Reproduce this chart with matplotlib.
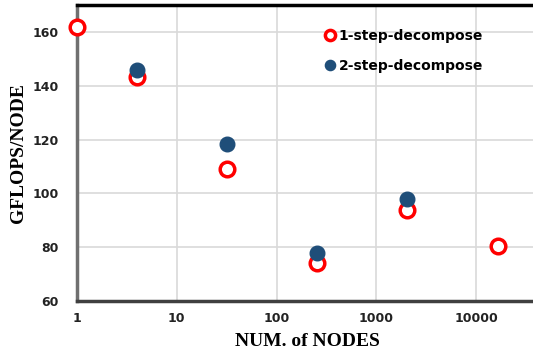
import matplotlib.pyplot as plt
import numpy as np

nodes_1step = [1, 4, 32, 256, 2048, 16384]
gflops_1step = [162, 143.3, 109, 74, 94, 80.5]
nodes_2step = [4, 32, 256, 2048]
gflops_2step = [146, 118.5, 78, 98]
x_ticks = [1, 10, 100, 1000, 10000]
y_ticks = [60, 80, 100, 120, 140, 160]

RED = "#FF0000"
BLUE = "#1F4E79"

fig = plt.figure(figsize=(5.33, 3.53), dpi=100)
ax = fig.add_axes([77 / 533., 52 / 353., 1 - 77 / 533. + 0.01, 296 / 353.])

ax.set_xscale("log")
ax.set_xlim(1, 42000)
ax.set_ylim(60, 170)

# grid
ax.grid(True, color="#D9D9D9", lw=1.2)
ax.set_axisbelow(True)

ax.plot(nodes_1step, gflops_1step, "o", ms=10.5, mfc="white", mec=RED, mew=2.5,
        label="1-step-decompose", clip_on=False, zorder=3)
ax.plot(nodes_2step, gflops_2step, "o", ms=10.5, mfc=BLUE, mec=BLUE,
        label="2-step-decompose", clip_on=False, zorder=3)

ax.set_xticks(x_ticks)
ax.set_xticklabels([str(t) for t in x_ticks])
ax.set_yticks(y_ticks)
ax.minorticks_off()
ax.tick_params(axis="x", length=0, labelsize=9, pad=8)
ax.tick_params(axis="y", length=0, labelsize=9, pad=13)
for lab in ax.get_xticklabels() + ax.get_yticklabels():
    lab.set_fontweight("bold")
    lab.set_family("DejaVu Sans")
    lab.set_color("#222222")

# frame
ax.spines["right"].set_visible(False)
ax.spines["top"].set_linewidth(2.5)
ax.spines["top"].set_color("black")
ax.spines["left"].set_linewidth(2.5)
ax.spines["left"].set_color("#707070")
ax.spines["bottom"].set_linewidth(2.5)
ax.spines["bottom"].set_color("#404040")

ax.set_xlabel("NUM. of NODES", family="Liberation Serif", fontweight="bold",
              fontsize=14, labelpad=6)
ax.set_ylabel("GFLOPS/NODE", family="Liberation Serif", fontweight="bold",
              fontsize=14, labelpad=4)

leg = ax.legend(loc="upper left", bbox_to_anchor=(0.507, 0.96), frameon=False,
                handletextpad=0.1, labelspacing=1.1, handlelength=1.0,
                prop={"weight": "bold", "size": 10, "family": "DejaVu Sans"},
                markerscale=0.7)

fig.savefig("out.png", dpi=100)
